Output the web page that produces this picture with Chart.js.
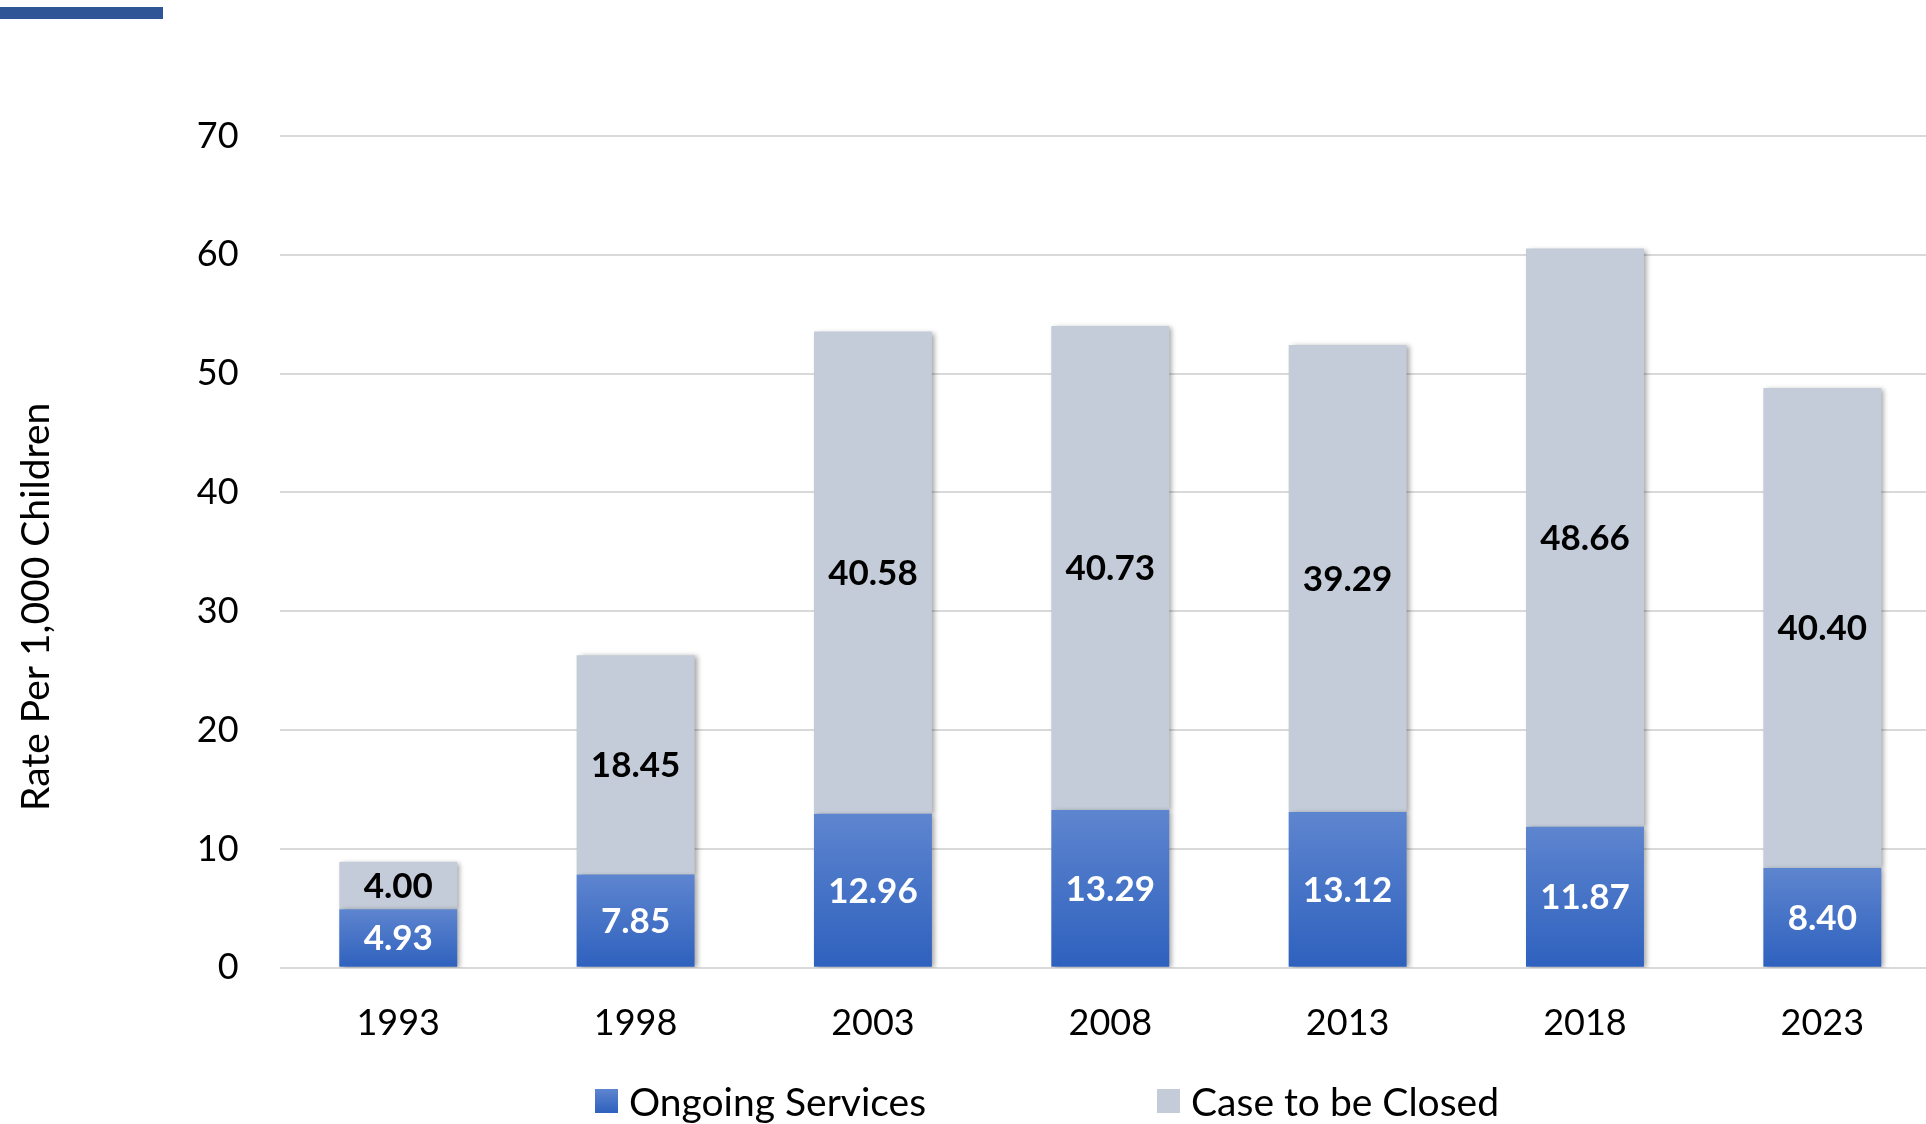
<!DOCTYPE html>
<html>
<head>
<meta charset="utf-8">
<script src="https://cdn.jsdelivr.net/npm/chart.js@4.4.1/dist/chart.umd.min.js"></script>
<style>
    html, body { margin: 0; padding: 0; background: #fff; overflow: hidden; width: 1926px; height: 1124px; }
    #topRule { position: absolute; left: 0; top: 7px; width: 163px; height: 12px; background: #2F5597; }
    #chart { position: absolute; left: 0; top: 0; }
    #legend { position: absolute; left: 0; width: 2094px; top: 1078px; display: flex; justify-content: center; gap: 231px;
              font-family: Lato, sans-serif; font-size: 39px; color: #000; }
    .item { display: flex; align-items: center; gap: 11px; }
    .swatch { width: 23px; height: 24px; }
</style>
</head>
<body>
<div id="topRule"></div>
<canvas id="chart" width="1941" height="1124"></canvas>
<div id="legend"></div>
<script>
const years = ["1993", "1998", "2003", "2008", "2013", "2018", "2023"];
const ongoingServices = [4.93, 7.85, 12.96, 13.29, 13.12, 11.87, 8.40];
const caseToBeClosed = [4.00, 18.45, 40.58, 40.73, 39.29, 48.66, 40.40];
const yTicks = [0, 10, 20, 30, 40, 50, 60, 70];

const BLUE_TOP = "#5E85CF";
const BLUE_BOTTOM = "#2E61BE";
const GREY = "#C3CCD8";

// per-bar vertical gradient for the blue segments
function blueFill(ctx) {
    const chart = ctx.chart;
    const y = chart.scales.y;
    if (!chart.chartArea || !y || ctx.dataIndex === undefined) return BLUE_BOTTOM;
    const top = y.getPixelForValue(ongoingServices[ctx.dataIndex]);
    const bottom = y.getPixelForValue(0);
    if (!isFinite(top) || !isFinite(bottom) || top === bottom) return BLUE_BOTTOM;
    const g = chart.ctx.createLinearGradient(0, top, 0, bottom);
    g.addColorStop(0, BLUE_TOP);
    g.addColorStop(1, BLUE_BOTTOM);
    return g;
}

const barShadow = {
    id: "barShadow",
    beforeDatasetsDraw(chart) {
        const c = chart.ctx;
        c.save();
        c.shadowColor = "rgba(0,0,0,0.35)";
        c.shadowBlur = 5;
        c.shadowOffsetX = 3;
        c.shadowOffsetY = 1;
    },
    afterDatasetsDraw(chart) {
        chart.ctx.restore();
    },
};

const valueLabels = {
    id: "valueLabels",
    afterDraw(chart) {
        const c = chart.ctx;
        c.save();
        c.font = "bold 35px Lato, sans-serif";
        c.textAlign = "center";
        c.textBaseline = "middle";
        chart.data.datasets.forEach((ds, di) => {
            const meta = chart.getDatasetMeta(di);
            c.fillStyle = di === 0 ? "#FFFFFF" : "#000000";
            meta.data.forEach((bar, i) => {
                const p = bar.getProps(["x", "y", "base"], true);
                c.fillText(ds.data[i].toFixed(2), p.x, (p.y + p.base) / 2 + 1);
            });
        });
        c.restore();
    },
};

const chart = new Chart(document.getElementById("chart"), {
    type: "bar",
    data: {
        labels: years,
        datasets: [
            { label: "Ongoing Services", data: ongoingServices, backgroundColor: blueFill,
              barPercentage: 0.497, categoryPercentage: 1 },
            { label: "Case to be Closed", data: caseToBeClosed, backgroundColor: GREY,
              barPercentage: 0.497, categoryPercentage: 1 },
        ],
    },
    options: {
        responsive: false,
        animation: false,
        layout: { padding: { top: 136, left: 13, right: 0, bottom: 53 } },
        plugins: {
            legend: { display: false },
            tooltip: { enabled: false },
        },
        scales: {
            x: {
                stacked: true,
                grid: { display: false },
                border: { display: false },
                ticks: { color: "#000", padding: 26, font: { family: "Lato", size: 36 } },
            },
            y: {
                stacked: true,
                min: 0,
                max: 70,
                afterBuildTicks(axis) { axis.ticks = yTicks.map(v => ({ value: v })); },
                grid: { color: "#D9D9D9", lineWidth: 2, drawTicks: false },
                border: { display: false },
                ticks: { color: "#000", padding: 41, font: { family: "Lato", size: 36 } },
                title: {
                    display: true,
                    // trailing spaces push the centred title a little down the axis, as in the original
                    text: "Rate Per 1,000 Children" + " ".repeat(11),
                    color: "#000",
                    font: { family: "Lato", size: 39 },
                    padding: { top: 0, bottom: 96 },
                },
            },
        },
    },
    plugins: [barShadow, valueLabels],
});

// legend built from the chart's datasets
const legendEl = document.getElementById("legend");
chart.data.datasets.forEach((ds, i) => {
    const item = document.createElement("div");
    item.className = "item";
    const sw = document.createElement("div");
    sw.className = "swatch";
    sw.style.background = i === 0 ? "linear-gradient(" + BLUE_TOP + "," + BLUE_BOTTOM + ")" : GREY;
    const txt = document.createElement("span");
    txt.textContent = ds.label;
    item.appendChild(sw);
    item.appendChild(txt);
    legendEl.appendChild(item);
});
</script>
</body>
</html>
